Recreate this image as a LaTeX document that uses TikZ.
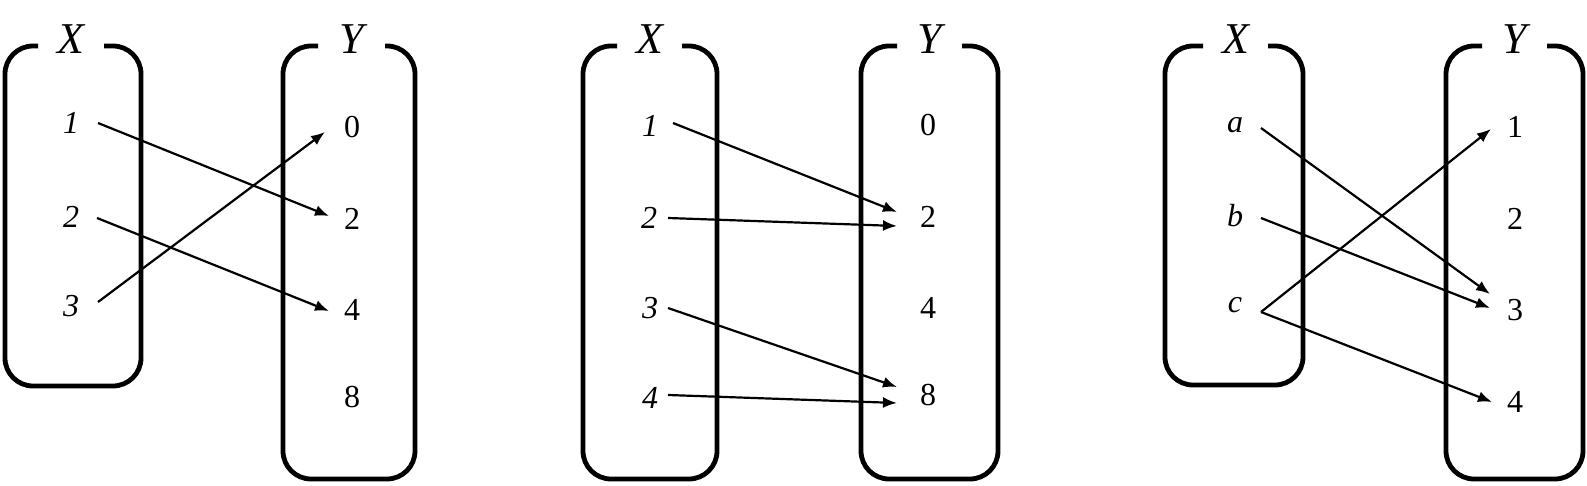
\documentclass[tikz,border=0pt]{standalone}
\usepackage{fontspec}
\setmainfont{Liberation Serif}
\usetikzlibrary{arrows.meta}
\begin{document}
\begin{tikzpicture}[x=0.5pt,y=-0.5pt,
  setbox/.style={line width=2.4pt, rounded corners=14pt},
  setname/.style={anchor=base, inner sep=0pt, font=\fontsize{22}{25}\selectfont\itshape},
  elem/.style={inner sep=0pt, outer sep=0pt, font=\fontsize{16}{18}\selectfont},
  ielem/.style={inner sep=0pt, outer sep=0pt, font=\fontsize{16}{18}\selectfont\itshape},
  arr/.style={line width=1.1pt, -{Latex[length=7pt,width=5.5pt]}}]
\useasboundingbox (0,0) rectangle (1587,486);

% ---------- Panel 1 ----------
\draw[setbox] (38,46) -- (5,46) -- (5,386) -- (141,386) -- (141,46) -- (104,46);
\draw[setbox] (318,46) -- (283,46) -- (283,479) -- (415,479) -- (415,46) -- (385,46);
\node[setname] (p1X) at (71,54) {X};
\node[setname] (p1Y) at (351.5,54) {Y};
\node[ielem] (p1x1) at (71,123) {1};
\node[ielem] (p1x2) at (71,217) {2};
\node[ielem] (p1x3) at (71,306) {3};
\node[elem] (p1y0) at (352,127) {0};
\node[elem] (p1y2) at (352,219) {2};
\node[elem] (p1y4) at (352,310) {4};
\node[elem] (p1y8) at (352,397) {8};
\draw[arr] ([xshift=13.5pt]p1x1.center) -- ([xshift=-11.5pt,yshift=1.5pt]p1y2.center);
\draw[arr] ([xshift=13pt,yshift=-0.5pt]p1x2.center) -- ([xshift=-11.5pt,yshift=-0.5pt]p1y4.center);
\draw[arr] ([xshift=13.5pt,yshift=2pt]p1x3.center) -- ([xshift=-13.5pt,yshift=-2.5pt]p1y0.center);

% ---------- Panel 2 ----------
\draw[setbox] (617,46) -- (583,46) -- (583,479) -- (717,479) -- (717,46) -- (682,46);
\draw[setbox] (897,46) -- (861,46) -- (861,479) -- (998,479) -- (998,46) -- (962,46);
\node[setname] (p2X) at (649.5,54) {X};
\node[setname] (p2Y) at (929.5,54) {Y};
\node[ielem] (p2x1) at (650,126) {1};
\node[ielem] (p2x2) at (649,218) {2};
\node[ielem] (p2x3) at (650,308) {3};
\node[ielem] (p2x4) at (650,398) {4};
\node[elem] (p2y0) at (928,125) {0};
\node[elem] (p2y2) at (928,217) {2};
\node[elem] (p2y4) at (928,308) {4};
\node[elem] (p2y8) at (928,395) {8};
\draw[arr] ([xshift=11.5pt,yshift=1.5pt]p2x1.center) -- ([xshift=-15.5pt,yshift=2.5pt]p2y2.center);
\draw[arr] ([xshift=9.5pt]p2x2.center) -- ([xshift=-15.5pt,yshift=-4.5pt]p2y2.center);
\draw[arr] ([xshift=9pt]p2x3.center) -- ([xshift=-15.5pt,yshift=4pt]p2y8.center);
\draw[arr] ([xshift=9pt,yshift=1.5pt]p2x4.center) -- ([xshift=-15.5pt,yshift=-4pt]p2y8.center);

% ---------- Panel 3 ----------
\draw[setbox] (1203,46) -- (1165,46) -- (1165,385) -- (1303,385) -- (1303,46) -- (1268,46);
\draw[setbox] (1482,46) -- (1446,46) -- (1446,479) -- (1583,479) -- (1583,46) -- (1547,46);
\node[setname] (p3X) at (1235.5,54) {X};
\node[setname] (p3Y) at (1514.5,54) {Y};
\node[ielem] (p3xa) at (1235,125) {a};
\node[ielem] (p3xb) at (1235,216) {b};
\node[ielem] (p3xc) at (1235,305) {c};
\node[elem] (p3y1) at (1515,127) {1};
\node[elem] (p3y2) at (1515,219) {2};
\node[elem] (p3y3) at (1515,310) {3};
\node[elem] (p3y4) at (1515,402) {4};
\draw[arr] ([xshift=13pt,yshift=-1.5pt]p3xa.center) -- ([xshift=-12.5pt,yshift=8pt]p3y3.center);
\draw[arr] ([xshift=13pt,yshift=-1pt]p3xb.center) -- ([xshift=-12.5pt,yshift=1pt]p3y3.center);
\draw[arr] ([xshift=13pt,yshift=-3.5pt]p3xc.center) -- ([xshift=-12pt,yshift=-1pt]p3y1.center);
\draw[arr] ([xshift=13pt,yshift=-3.5pt]p3xc.center) -- ([xshift=-11.5pt]p3y4.center);
\end{tikzpicture}
\end{document}
